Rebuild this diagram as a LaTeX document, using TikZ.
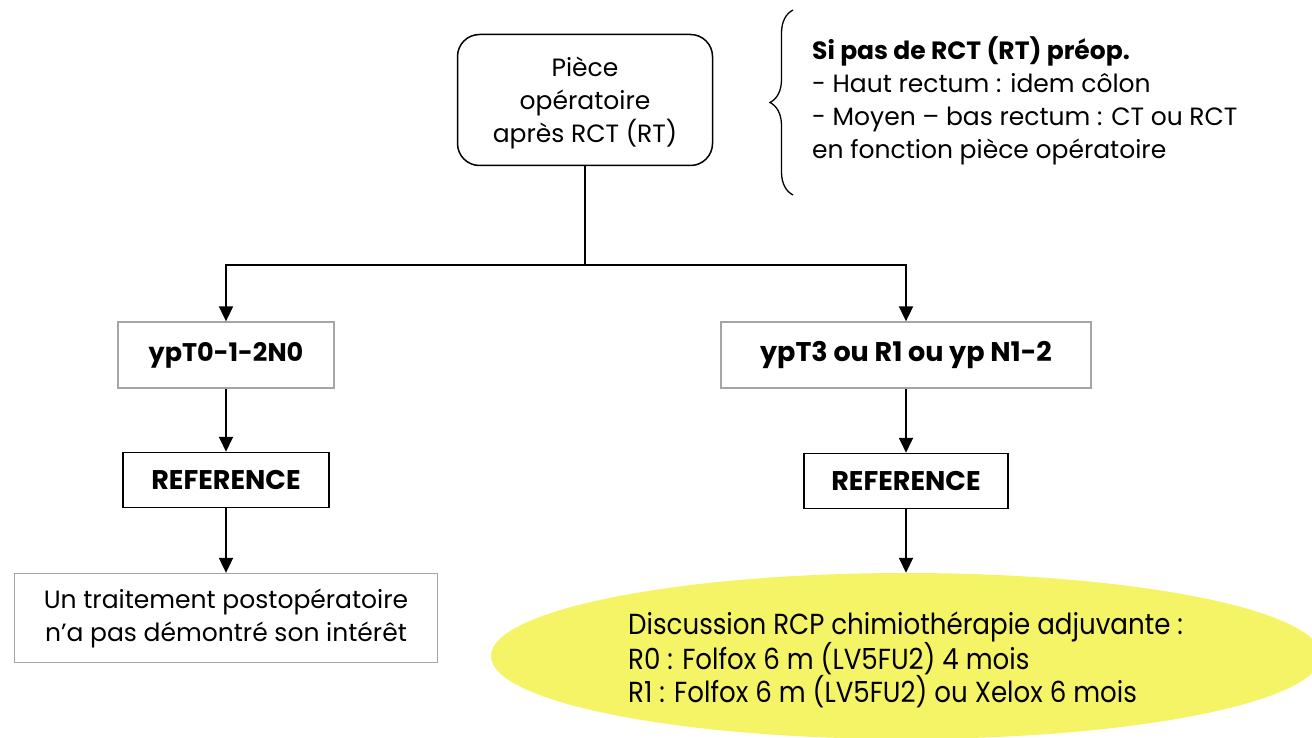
\documentclass[tikz,border=0pt]{standalone}
\usepackage{fontspec}
\setmainfont{Poppins}
\newfontfamily\etroit[FakeStretch=0.9]{Poppins}
\usetikzlibrary{arrows.meta,shapes.geometric,decorations.pathreplacing}
\definecolor{jaune}{RGB}{245,244,102}
\definecolor{gris}{RGB}{165,165,165}
\begin{document}
\begin{tikzpicture}[x=1pt, y=-1pt,
	every node/.style={font=\fontsize{25}{33}\selectfont, inner sep=0pt, align=center},
	boitegrise/.style={draw=gris, line width=1.3pt},
	boitenoire/.style={draw=black, line width=1.5pt, font=\fontsize{27}{33}\selectfont\bfseries},
	fleche/.style={line width=1.8pt, -{Triangle[width=14pt,length=15pt]}}]
	\useasboundingbox (0,0) rectangle (1312,738);
	% piece operatoire
	\node[draw, line width=1.5pt, rounded corners=22pt, minimum width=255pt, minimum height=131pt, text depth=-8pt] (piece) at (585,100) {Pièce\\opératoire\\après RCT (RT)};
	% accolade
	\draw[line width=1.3pt, decorate, decoration={brace, amplitude=23pt}] (793,195) -- (793,10);
	\node[anchor=west, align=left] (preop) at (812,101) {\textbf{Si pas de RCT (RT) préop.}\\- Haut rectum : idem côlon\\- Moyen – bas rectum : CT ou RCT\\en fonction pièce opératoire};
	% branches
	\coordinate (fourche) at (585,265);
	\node[boitegrise, minimum width=216pt, minimum height=66pt, font=\fontsize{25.5}{33}\selectfont\bfseries] (ypt0) at (226,355) {ypT0-1-2N0};
	\node[boitegrise, minimum width=370pt, minimum height=66pt, font=\fontsize{27}{33}\selectfont\bfseries] (ypt3) at (906,355) {ypT3 ou R1 ou yp N1-2};
	\node[boitenoire, minimum width=206pt, minimum height=55pt] (refg) at (226,480) {REFERENCE};
	\node[boitenoire, minimum width=204pt, minimum height=55pt] (refd) at (906,481) {REFERENCE};
	\node[boitegrise, minimum width=423pt, minimum height=89pt] (postop) at (226,618) {Un traitement postopératoire\\n’a pas démontré son intérêt};
	\node[ellipse, fill=jaune, minimum width=830pt, minimum height=166pt] (rcp) at (906,656) {};
	\node[anchor=west, align=left, font=\fontsize{29}{33}\selectfont\etroit] (chimio) at (628,660) {Discussion RCP chimiothérapie adjuvante :\\R0 : Folfox 6 m (LV5FU2) 4 mois\\R1 : Folfox 6 m (LV5FU2) ou Xelox 6 mois};
	% fleches
	\draw[line width=1.8pt] (piece) -- (fourche);
	\draw[fleche] (fourche) -| (ypt0);
	\draw[fleche] (fourche) -| (ypt3);
	\draw[fleche] (ypt0) -- (refg);
	\draw[fleche] (ypt3) -- (refd);
	\draw[fleche] (refg) -- (postop);
	\draw[fleche] (refd) -- (rcp);
\end{tikzpicture}
\end{document}
